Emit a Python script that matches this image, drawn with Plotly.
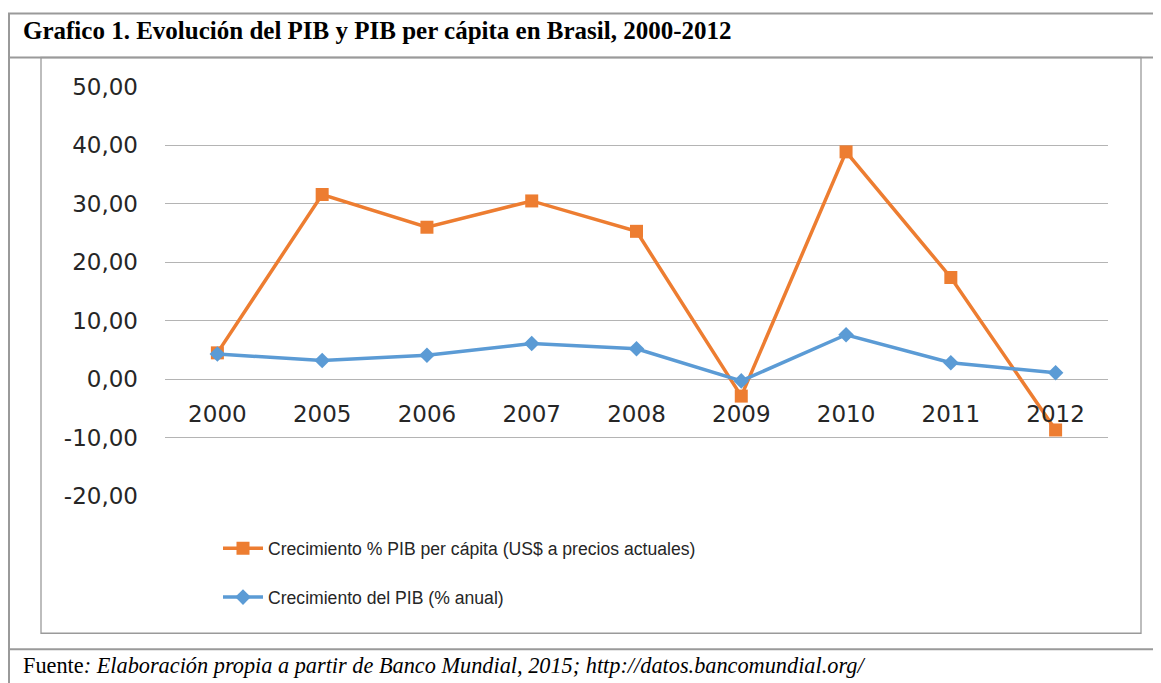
import plotly.graph_objects as go

years = ["2000", "2005", "2006", "2007", "2008", "2009", "2010", "2011", "2012"]
pib_per_capita = [4.5, 31.6, 26.0, 30.5, 25.3, -2.9, 38.9, 17.4, -8.7]
pib_anual = [4.3, 3.2, 4.1, 6.1, 5.2, -0.3, 7.6, 2.8, 1.1]
y_ticks = [-20, -10, 0, 10, 20, 30, 40, 50]
y_ticktext = [f"{v:.2f}".replace(".", ",") for v in y_ticks]

name_pc = "Crecimiento % PIB per cápita (US$ a precios actuales)"
name_pib = "Crecimiento del PIB (% anual)"
title_text = "<b>Grafico 1. Evolución del PIB y PIB per cápita en Brasil, 2000-2012</b>"
footer_text = "Fuente<i>: Elaboración propia a partir de Banco Mundial, 2015; http://datos.bancomundial.org/</i>"

# the page body has an 8px margin; the figure is placed at (8, 8)
OFF = 8
W, H = 1161 - OFF, 683 - OFF
PL, PR, PT, PB = 165, 1108, 86.5, 495.7  # plot area in window pixels
ML, MR, MT, MB = PL - OFF, 1161 - PR, PT - OFF, 683 - PB
PW = W - ML - MR
PH = H - MT - MB

def px_x(p):
    return (p - OFF - ML) / PW

def px_y(p):
    return (H - MB - (p - OFF)) / PH

ORANGE = "#ED7D31"
BLUE = "#5B9BD5"
GRID = "#B4B4B4"
BORDER = "#9A9A9A"
TICKFONT = dict(family="DejaVu Sans", size=23, color="#262626")

fig = go.Figure()
fig.add_trace(go.Scatter(
    x=years, y=pib_per_capita, name=name_pc, mode="lines+markers",
    line=dict(color=ORANGE, width=3.5),
    marker=dict(symbol="square", size=13, color=ORANGE),
    legendgroup="a",
))
fig.add_trace(go.Scatter(
    x=years, y=pib_anual, name=name_pib, mode="lines+markers",
    line=dict(color=BLUE, width=3.5),
    marker=dict(symbol="diamond", size=12, color=BLUE),
    legendgroup="b",
))

idx = years.index("2009")
fig.add_annotation(
    x=years[idx], y=pib_anual[idx], text=f"{pib_anual[idx]:.1f}".replace(".", ","),
    showarrow=False, xanchor="left", yanchor="middle", xshift=24, yshift=-2,
    font=dict(family="DejaVu Sans", size=23, color="#262626"),
)

zero_pos = (0 - min(y_ticks)) / (max(y_ticks) - min(y_ticks))

fig.update_layout(
    width=W, height=H,
    margin=dict(l=ML, r=MR, t=MT, b=MB),
    paper_bgcolor="white", plot_bgcolor="white",
    showlegend=True,
    legend=dict(
        x=px_x(218), y=px_y(530), xanchor="left", yanchor="top",
        traceorder="grouped", tracegroupgap=23,
        font=dict(family="Liberation Sans", size=17.6, color="#262626"),
        itemwidth=40, bgcolor="rgba(0,0,0,0)",
    ),
    xaxis=dict(
        type="category", anchor="free", position=zero_pos,
        showgrid=False, showline=False, ticks="", zeroline=False,
        tickfont=TICKFONT, ticklabelstandoff=19,
        range=[-0.5, len(years) - 0.5],
    ),
    yaxis=dict(
        range=[min(y_ticks), max(y_ticks)], tickvals=y_ticks, ticktext=y_ticktext,
        showgrid=True, gridcolor=GRID, gridwidth=1, zeroline=False,
        showline=False, ticks="", tickfont=TICKFONT, ticklabelstandoff=26,
    ),
)

line = dict(color=BORDER, width=2)
thin = dict(color=BORDER, width=1.3)
shapes = [
    dict(type="line", xref="paper", yref="paper", x0=px_x(8), x1=px_x(1161), y0=px_y(13), y1=px_y(13), line=line),
    dict(type="line", xref="paper", yref="paper", x0=px_x(8), x1=px_x(1161), y0=px_y(57), y1=px_y(57), line=line),
    dict(type="line", xref="paper", yref="paper", x0=px_x(8), x1=px_x(1161), y0=px_y(649), y1=px_y(649), line=line),
    dict(type="line", xref="paper", yref="paper", x0=px_x(9), x1=px_x(9), y0=px_y(13), y1=px_y(683), line=line),
    dict(type="rect", xref="paper", yref="paper", x0=px_x(41), x1=px_x(1141), y0=px_y(57), y1=px_y(633), line=thin),
]
fig.update_layout(shapes=shapes)

fig.add_annotation(
    xref="paper", yref="paper", x=px_x(21), y=px_y(30), xanchor="left", yanchor="middle",
    text=title_text, showarrow=False,
    font=dict(family="Liberation Serif", size=25, color="black"),
)
fig.add_annotation(
    xref="paper", yref="paper", x=px_x(21), y=px_y(665), xanchor="left", yanchor="middle",
    text=footer_text, showarrow=False,
    font=dict(family="Liberation Serif", size=22.3, color="black"),
)

fig.write_html("out.html")
